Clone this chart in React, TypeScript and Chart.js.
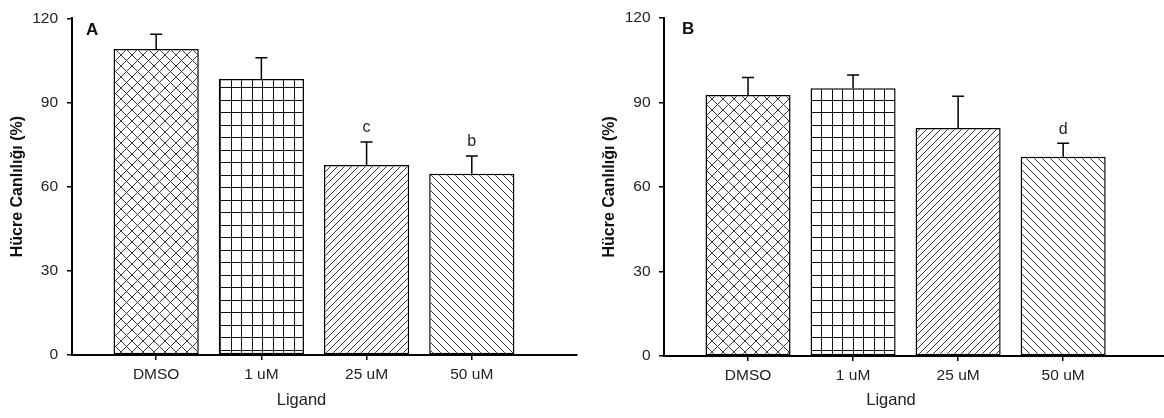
import React, { useEffect, useRef } from "react";
import { Chart, registerables } from "chart.js";

Chart.register(...registerables);

// ---------- data ----------
const categories = ["DMSO", "1 uM", "25 uM", "50 uM"];
const positions = [1, 2, 3, 4];
const yTicks = [0, 30, 60, 90, 120];
const patternKinds = ["cross", "grid", "slash", "back"];

const valuesA = [109.1, 98.4, 67.7, 64.6];
const errorsA = [5.2, 7.5, 8.2, 6.3];
const notesA = ["", "", "c", "b"];

const valuesB = [92.6, 95.0, 80.9, 70.7];
const errorsB = [6.2, 4.7, 11.3, 4.8];
const notesB = ["", "", "", "d"];

const yTitle = "Hücre Canlılığı (%)";
const xTitle = "Ligand";

// ---------- styles ----------
const FONT = "'Liberation Sans', Arial, sans-serif";
const TEXT = "#222";

function makePattern(kind: string): CanvasPattern | string {
  const c = document.createElement("canvas");
  let w = 11, h = 11;
  if (kind === "grid") { w = 21; h = 25; }
  if (kind === "slash") { w = 7; h = 7; }
  if (kind === "back") { w = 8; h = 8; }
  c.width = w; c.height = h;
  const g = c.getContext("2d")!;
  g.fillStyle = "#fff";
  g.fillRect(0, 0, w, h);
  g.lineWidth = 1;
  g.beginPath();
  if (kind === "cross") {
    g.strokeStyle = "#3a3a3a";
    g.moveTo(0, 0); g.lineTo(w, h);
    g.moveTo(-1, h - 1); g.lineTo(1, h + 1);
    g.moveTo(w - 1, -1); g.lineTo(w + 1, 1);
    g.moveTo(0, h); g.lineTo(w, 0);
    g.moveTo(-1, 1); g.lineTo(1, -1);
    g.moveTo(w - 1, h + 1); g.lineTo(w + 1, h - 1);
  } else if (kind === "grid") {
    g.strokeStyle = "#111";
    g.moveTo(0.5, 0); g.lineTo(0.5, h);
    g.moveTo(10.5, 0); g.lineTo(10.5, h);
    g.moveTo(0, 0.5); g.lineTo(w, 0.5);
    g.moveTo(0, 12.5); g.lineTo(w, 12.5);
  } else if (kind === "slash") {
    g.strokeStyle = "#333";
    g.moveTo(0, h); g.lineTo(w, 0);
    g.moveTo(-1, 1); g.lineTo(1, -1);
    g.moveTo(w - 1, h + 1); g.lineTo(w + 1, h - 1);
  } else {
    g.strokeStyle = "#333";
    g.moveTo(0, 0); g.lineTo(w, h);
    g.moveTo(-1, h - 1); g.lineTo(1, h + 1);
    g.moveTo(w - 1, -1); g.lineTo(w + 1, 1);
  }
  g.stroke();
  const p = g.createPattern(c, "repeat");
  return p || "#fff";
}

const decorPlugin = {
  id: "decor",
  afterDatasetsDraw(chart: any, _args: any, opts: any) {
    const ctx = chart.ctx as CanvasRenderingContext2D;
    const ys = chart.scales.y;
    const meta = chart.getDatasetMeta(0);
    const values: number[] = opts.values;
    const errors: number[] = opts.errors;
    const notes: string[] = opts.notes;
    ctx.save();
    ctx.strokeStyle = "#000";
    ctx.lineWidth = 1.5;
    meta.data.forEach((bar: any, i: number) => {
      const top = ys.getPixelForValue(values[i] + errors[i]);
      ctx.beginPath();
      ctx.moveTo(bar.x, bar.y);
      ctx.lineTo(bar.x, top);
      ctx.moveTo(bar.x - 6, top);
      ctx.lineTo(bar.x + 6, top);
      ctx.stroke();
      if (notes[i]) {
        ctx.fillStyle = TEXT;
        ctx.font = `16px ${FONT}`;
        ctx.textAlign = "center";
        ctx.textBaseline = "middle";
        ctx.fillText(notes[i], bar.x, top - 14);
      }
    });
    const area = chart.chartArea;
    // panel letter
    ctx.fillStyle = "#111";
    ctx.font = `bold 17px ${FONT}`;
    ctx.textAlign = "left";
    ctx.textBaseline = "middle";
    ctx.fillText(opts.letter, area.left + opts.letterOffset, area.top + 12);
    // x axis title
    ctx.fillStyle = TEXT;
    ctx.font = `16.5px ${FONT}`;
    ctx.textAlign = "center";
    ctx.textBaseline = "middle";
    ctx.fillText(opts.xTitle, (area.left + area.right) / 2 - 23, 400);
    ctx.restore();
  },
};

type PanelProps = {
  width: number;
  values: number[];
  errors: number[];
  notes: string[];
  letter: string;
  letterOffset: number;
  padTop: number;
  padRight: number;
  yAxisWidth: number;
  xAxisHeight: number;
  xMax: number;
  yTitlePad: number;
  yTickPad: number;
};

function Panel(p: PanelProps) {
  const ref = useRef<HTMLCanvasElement | null>(null);
  useEffect(() => {
    if (!ref.current) return;
    const patterns = patternKinds.map((k) => makePattern(k));
    const chart = new Chart(ref.current, {
      type: "bar",
      data: {
        datasets: [
          {
            data: positions.map((x, i) => ({ x, y: p.values[i] })) as any,
            backgroundColor: patterns as any,
            borderColor: "#000",
            borderWidth: 1.5,
            borderSkipped: false,
            barPercentage: 1,
            categoryPercentage: 0.81,
          },
        ],
      },
      options: {
        responsive: false,
        animation: false,
        layout: { padding: { top: p.padTop, right: p.padRight, left: 0, bottom: 0 } },
        plugins: {
          legend: { display: false },
          tooltip: { enabled: false },
          decor: {
            values: p.values,
            errors: p.errors,
            notes: p.notes,
            letter: p.letter,
            letterOffset: p.letterOffset,
            xTitle,
          },
        } as any,
        scales: {
          x: {
            type: "linear",
            min: 0.2,
            max: p.xMax,
            offset: false,
            afterBuildTicks: (s: any) => {
              s.ticks = positions.map((v) => ({ value: v }));
            },
            afterFit: (s: any) => {
              s.height = p.xAxisHeight;
            },
            ticks: {
              callback: (v: any) => {
                const i = positions.indexOf(Number(v));
                return i >= 0 ? categories[i] : "";
              },
              font: { family: FONT, size: 15.5 },
              color: TEXT,
              padding: 5,
              maxRotation: 0,
              autoSkip: false,
            },
            grid: {
              offset: false,
              drawOnChartArea: false,
              drawTicks: true,
              tickLength: 5,
              color: "#000",
              lineWidth: 1.5,
            },
            border: { display: true, color: "#000", width: 2 },
          },
          y: {
            min: 0,
            max: 120,
            afterBuildTicks: (s: any) => {
              s.ticks = yTicks.map((v) => ({ value: v }));
            },
            afterFit: (s: any) => {
              s.width = p.yAxisWidth;
            },
            ticks: {
              font: { family: FONT, size: 15.5 },
              color: TEXT,
              padding: p.yTickPad,
            },
            title: {
              display: true,
              text: yTitle,
              font: { family: FONT, size: 16, weight: "bold" },
              color: "#111",
              padding: { top: p.yTitlePad, bottom: 0 },
            },
            grid: {
              drawOnChartArea: false,
              drawTicks: true,
              tickLength: 5,
              color: "#000",
              lineWidth: 1.5,
            },
            border: { display: true, color: "#000", width: 2 },
          },
        } as any,
      },
      plugins: [decorPlugin],
    });
    return () => chart.destroy();
  }, []);
  return (
    <canvas
      ref={ref}
      width={p.width}
      height={418}
      style={{ display: "block", width: p.width, height: 418 }}
    />
  );
}

export default function App() {
  return (
    <div
      style={{
        position: "absolute",
        left: 0,
        top: 0,
        width: 1164,
        height: 418,
        display: "flex",
        background: "#fff",
        overflow: "hidden",
      }}
    >
      <Panel
        width={580}
        values={valuesA}
        errors={errorsA}
        notes={notesA}
        letter="A"
        letterOffset={14}
        padTop={13}
        padRight={3}
        yAxisWidth={72}
        xAxisHeight={63}
        xMax={5}
        yTitlePad={8}
        yTickPad={9}
      />
      <Panel
        width={584}
        values={valuesB}
        errors={errorsB}
        notes={notesB}
        letter="B"
        letterOffset={18}
        padTop={15}
        padRight={0}
        yAxisWidth={84}
        xAxisHeight={62}
        xMax={4.96}
        yTitlePad={20}
        yTickPad={8.5}
      />
    </div>
  );
}
